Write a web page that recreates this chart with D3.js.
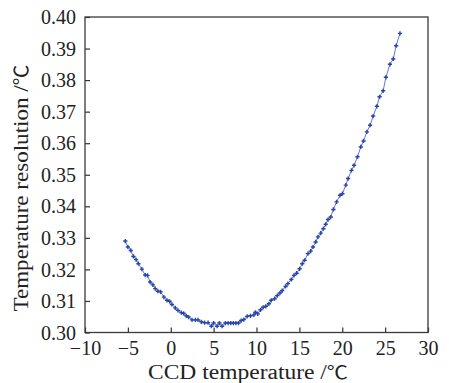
<!DOCTYPE html>
<html>
<head>
<meta charset="utf-8">
<script src="https://cdn.jsdelivr.net/npm/d3@7"></script>
<style>
  html, body { margin: 0; padding: 0; background: #fff; }
  svg { display: block; }
  text { font-family: "Liberation Serif", "DejaVu Serif", serif; fill: #222; }
</style>
</head>
<body>
<svg id="chart" width="449" height="383"></svg>
<script>
// CCD temperature (°C)
const temperature = [
  -5.30, -5.00, -4.66, -4.35, -4.04, -3.77, -3.37, -2.98, -2.71, -2.40,
  -2.08, -1.81, -1.50, -1.19, -0.80, -0.44, -0.14, 0.14, 0.53, 0.84,
  1.23, 1.50, 1.81, 2.08, 2.48, 2.87, 3.18, 3.57, 3.95, 4.35,
  4.74, 5.00, 5.40, 5.67, 5.99, 6.37, 6.69, 7.00, 7.30, 7.60,
  7.90, 8.21, 8.52, 8.91, 9.30, 9.69, 9.88, 10.15, 10.47, 10.78,
  11.09, 11.44, 11.72, 12.11, 12.42, 12.73, 13.00, 13.39, 13.66, 14.06,
  14.37, 14.68, 15.03, 15.34, 15.61, 16.00, 16.32, 16.59, 16.90, 17.17,
  17.49, 17.80, 18.07, 18.34, 18.65, 18.97, 19.34, 19.74, 20.02, 20.41,
  20.68, 21.08, 21.38, 21.78, 22.16, 22.48, 22.87, 23.25, 23.60, 24.04,
  24.35, 24.77, 25.09, 25.56, 25.95, 26.29, 26.73
];
// Temperature resolution (°C)
const resolution = [
  0.3290, 0.3271, 0.3260, 0.3241, 0.3231, 0.3218, 0.3201, 0.3182, 0.3181, 0.3160,
  0.3151, 0.3139, 0.3131, 0.3129, 0.3112, 0.3102, 0.3099, 0.3089, 0.3078, 0.3070,
  0.3063, 0.3061, 0.3053, 0.3049, 0.3040, 0.3040, 0.3040, 0.3034, 0.3031, 0.3031,
  0.3020, 0.3030, 0.3020, 0.3030, 0.3020, 0.3030, 0.3030, 0.3030, 0.3030, 0.3030,
  0.3030, 0.3038, 0.3041, 0.3051, 0.3053, 0.3056, 0.3064, 0.3059, 0.3072, 0.3080,
  0.3083, 0.3091, 0.3102, 0.3107, 0.3117, 0.3125, 0.3133, 0.3146, 0.3155, 0.3168,
  0.3181, 0.3188, 0.3202, 0.3218, 0.3229, 0.3250, 0.3258, 0.3271, 0.3287, 0.3303,
  0.3315, 0.3329, 0.3343, 0.3358, 0.3366, 0.3390, 0.3414, 0.3435, 0.3440, 0.3467,
  0.3488, 0.3514, 0.3530, 0.3557, 0.3588, 0.3607, 0.3636, 0.3657, 0.3686, 0.3717,
  0.3747, 0.3766, 0.3809, 0.3850, 0.3867, 0.3909, 0.3948
];
const xTicks = [-10, -5, 0, 5, 10, 15, 20, 25, 30];
const yTicks = [0.30, 0.31, 0.32, 0.33, 0.34, 0.35, 0.36, 0.37, 0.38, 0.39, 0.40];
const xTitle = "CCD temperature /";
const yTitle = "Temperature resolution /";
const unit = "\u2103";

const svg = d3.select("#chart");
const L = 85, R = 428, T = 17, B = 332.5;
const x = d3.scaleLinear().domain([-10, 30]).range([L, R]);
const y = d3.scaleLinear().domain([0.30, 0.40]).range([B, T]);

const fmtX = d => (d < 0 ? "\u2212" + Math.abs(d) : String(d));

// x axis (ticks inward)
const gx = svg.append("g").attr("transform", `translate(0,${B})`)
  .call(d3.axisBottom(x).tickValues(xTicks).tickSize(-5).tickPadding(0).tickFormat(fmtX));
gx.select(".domain").remove();
gx.selectAll("line").attr("stroke", "#333").attr("stroke-width", 1.2);
gx.selectAll("text").attr("font-size", 20).attr("dy", null).attr("y", 22)
  .attr("font-family", "Liberation Serif").attr("fill", "#222");

// y axis (ticks inward)
const gy = svg.append("g").attr("transform", `translate(${L},0)`)
  .call(d3.axisLeft(y).tickValues(yTicks).tickSize(-5).tickPadding(9).tickFormat(d3.format(".2f")));
gy.select(".domain").remove();
gy.selectAll("line").attr("stroke", "#333").attr("stroke-width", 1.2);
gy.selectAll("text").attr("font-size", 20).attr("dy", "0.33em")
  .attr("font-family", "Liberation Serif").attr("fill", "#222");

// frame
svg.append("rect").attr("x", L).attr("y", T).attr("width", R - L).attr("height", B - T)
  .attr("fill", "none").attr("stroke", "#3a3a3a").attr("stroke-width", 1.3);

// line
const pts = temperature.map((t, i) => [t, resolution[i]]);
svg.append("path").datum(pts)
  .attr("fill", "none").attr("stroke", "#5468c4").attr("stroke-width", 0.9)
  .attr("d", d3.line().x(d => x(d[0])).y(d => y(d[1])));

// markers
const sym = d3.symbol().type(d3.symbolCross).size(10);
svg.append("g").selectAll("path").data(pts).join("path")
  .attr("transform", d => `translate(${x(d[0])},${y(d[1])})`)
  .attr("d", sym).attr("fill", "#2a45a8");

// titles
const tx = svg.append("text").attr("x", 248).attr("y", 378.5).attr("text-anchor", "middle")
  .attr("font-size", 20).attr("textLength", 200).attr("lengthAdjust", "spacingAndGlyphs");
tx.append("tspan").text(xTitle);
tx.append("tspan").attr("font-family", "Noto Sans CJK SC").attr("font-size", 18).text(unit);

const ty = svg.append("text").attr("transform", "translate(28,188) rotate(-90)").attr("text-anchor", "middle")
  .attr("font-size", 21).attr("textLength", 247).attr("lengthAdjust", "spacingAndGlyphs");
ty.append("tspan").text(yTitle);
ty.append("tspan").attr("font-family", "Noto Sans CJK SC").attr("font-size", 19).text(unit);
</script>
</body>
</html>
